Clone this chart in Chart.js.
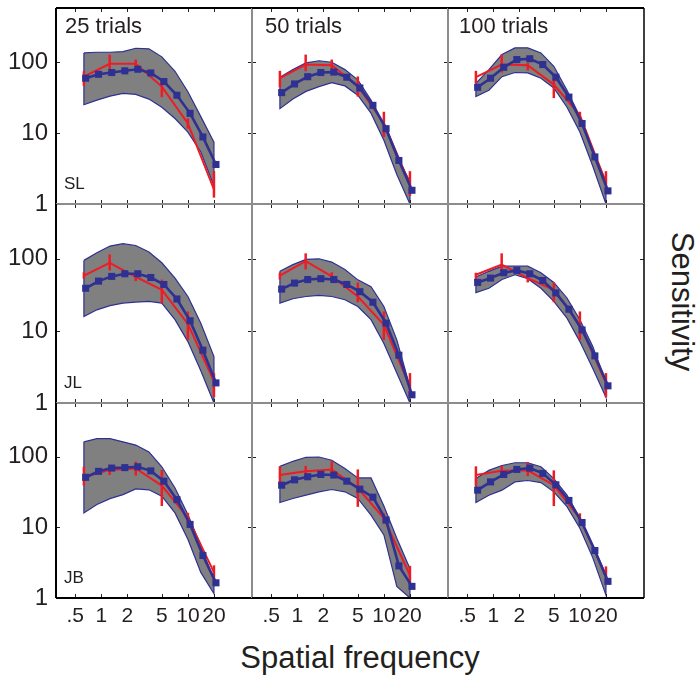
<!DOCTYPE html>
<html>
<head>
<script src="https://cdn.jsdelivr.net/npm/chart.js"></script>
<style>
  body { margin: 0; background: #fff; }
  #wrap { position: relative; width: 696px; height: 679px; overflow: hidden; }
  #wrap canvas { position: absolute; left: 0; top: 0; }
  .lbl { position: absolute; font-family: "Liberation Sans", Arial, sans-serif; font-size: 31px; line-height: 31px; color: #231f20; white-space: nowrap; }
</style>
</head>
<body>
<div id="wrap">
  <div class="lbl" style="left:360px; top:642px; transform:translateX(-50%);">Spatial frequency</div>
  <div class="lbl" style="left:582px; top:285.5px; width:200px; text-align:center; transform:rotate(90deg);">Sensitivity</div>
</div>
<script>
// x positions (cycles/deg)
const freqBand = [0.63, 0.89, 1.26, 1.78, 2.5, 3.55, 5, 7.1, 10, 14.1, 20];
const freqBlue = [0.66, 0.93, 1.32, 1.87, 2.64, 3.73, 5.28, 7.47, 10.6, 14.9, 21.1];
const freqRed = [0.63, 1.25, 2.5, 5, 10, 20];

const xTicks = [0.5, 1, 2, 5, 10, 20];
const xTickLabels = ['.5', '1', '2', '5', '10', '20'];
const yTicks = [1, 10, 100];

const trials = ['25 trials', '50 trials', '100 trials'];
const observers = ['SL', 'JL', 'JB'];

// each array below has one row per trial count: 25, 50, 100
const bandUpperSL = [
  [134, 137, 137, 140, 156, 153, 118, 74, 38, 17, 7.4],
  [61, 78, 97, 104, 99, 78, 56, 29, 12.9, 4.6, 2.1],
  [50, 78, 127, 158, 158, 134, 87, 40, 17, 5.7, 2.1]
];
const bandLowerSL = [
  [25, 29, 33, 36, 35, 30, 23, 16, 10.3, 5.4, 1.8],
  [22, 30, 38.5, 45, 51, 46, 34, 19, 7.9, 2.6, 1.0],
  [32.5, 40, 62, 71, 70, 59, 43, 23, 10.3, 3.4, 1.0]
];
const blueSL = [
  [59, 67, 71, 75, 79, 70, 53, 34, 18.9, 8.8, 3.6],
  [37, 49, 62, 71, 72, 61, 43, 24.5, 11.5, 4.1, 1.56],
  [44, 59, 84, 108, 111, 92, 61, 32, 13.6, 4.6, 1.53]
];
const redSL = [
  [62, 94, 94, 45, 13.6, 1.6],
  [59, 92, 90, 46, 13.6, 1.9],
  [61, 92, 90, 48, 17.8, 2.0]
];
const redHiSL = [
  [74, 127, 108, 59, 16, 2.9],
  [75, 127, 108, 62.5, 19.9, 2.9],
  [75, 127, 97, 59, 19.9, 2.9]
];
const redLoSL = [
  [46, 79, 87, 32, 11.5, 1.23],
  [44, 74, 78, 32.5, 8.8, 1.3],
  [50, 71, 76, 31, 13.6, 1.4]
];

const bandUpperJL = [
  [95, 121, 150, 162, 153, 124, 88, 54, 30, 12.8, 4.4],
  [67, 83, 98, 100, 90, 71, 51, 41, 21.8, 7.5, 1.67],
  [56, 67, 79, 79, 79, 64, 47, 28.6, 14.3, 6.1, 1.9]
];
const bandLowerJL = [
  [15.8, 19.6, 22.4, 24.3, 25.1, 25.6, 24.3, 14.3, 7.1, 2.8, 1.0],
  [24.3, 27.9, 30, 31, 30, 27, 21.8, 14.3, 6.7, 2.6, 1.0],
  [34, 39, 51.5, 60, 53, 39, 25.6, 15, 7.1, 3.0, 1.2]
];
const blueJL = [
  [39, 49, 57, 62, 62, 55, 44, 27.7, 13.8, 5.4, 1.9],
  [38, 46, 51.5, 53, 51.5, 44, 35, 25, 12.8, 4.6, 1.3],
  [47, 54, 64, 69, 62, 50, 33.6, 20, 10.3, 4.5, 1.73]
];
const redJL = [
  [58.5, 88, 56, 37, 12.5, 2.0],
  [58.5, 93, 57, 30, 12.1, 1.67],
  [60, 83, 54, 37, 12.1, 1.9]
];
const redHiJL = [
  [65, 115, 64, 51.5, 18.6, 2.6],
  [64, 119, 65, 47, 18.6, 2.6],
  [64, 119, 62, 47, 18.6, 2.6]
];
const redLoJL = [
  [53, 69, 49, 24.3, 7.5, 1.21],
  [51.5, 71, 49, 25, 7.5, 1.21],
  [49, 67, 47, 25, 7.5, 1.2]
];

const bandUpperJB = [
  [162, 180, 180, 162, 146, 117, 72, 36, 15.2, 5.5, 1.8],
  [73, 86, 98, 99, 89, 68, 50, 50, 20, 7.0, 2.6],
  [49, 64, 75, 82, 82, 72, 49, 28.6, 13.4, 5.4, 1.9]
];
const bandLowerJB = [
  [16, 21, 25.5, 29, 35, 34, 27.6, 16, 6.8, 2.3, 1.15],
  [22.5, 25.6, 28.5, 31.8, 34.3, 31.8, 25.6, 14.9, 7.8, 1.46, 1.0],
  [22.5, 28.5, 33.6, 44, 46, 43, 31.8, 19.6, 9.7, 3.7, 1.1]
];
const blueJB = [
  [51, 62, 69, 70, 72, 63, 45, 24.7, 11, 4.0, 1.64],
  [39.5, 47, 52, 56, 55, 45, 34.7, 26.7, 12.7, 2.85, 1.46],
  [33.6, 44, 56, 66, 69, 58, 40, 24, 11.7, 4.7, 1.72]
];
const redJB = [
  [51, 65, 68, 39, 13.7, 2.3],
  [55, 62, 66, 36, 13.4, 2.1],
  [55, 63, 64, 39.5, 13.4, 2.1]
];
const redHiJB = [
  [72, 76, 85, 65, 16, 2.9],
  [73, 74, 86, 66, 15.8, 2.85],
  [73, 74, 84, 64, 15.8, 2.8]
];
const redLoJB = [
  [39, 55, 54, 20, 11, 1.5],
  [39.5, 52, 55, 19.5, 11.4, 1.6],
  [38.6, 55, 53, 20, 11.4, 1.6]
];

const bandUpper = [bandUpperSL, bandUpperJL, bandUpperJB];
const bandLower = [bandLowerSL, bandLowerJL, bandLowerJB];
const blue = [blueSL, blueJL, blueJB];
const red = [redSL, redJL, redJB];
const redHi = [redHiSL, redHiJL, redHiJB];
const redLo = [redLoSL, redLoJL, redLoJB];

const BLUE = '#2e3192';
const RED = '#ed1c24';
const GRAY = '#808080';
const DIV = '#8c8c8c';
const INK = '#231f20';
const FONT = '"Liberation Sans", Arial, sans-serif';

// panel edges in page pixels
const colLeft = [56, 252, 448, 644];
const rowTop = [8, 204, 403, 598];
const W = 696, H = 679;

Chart.defaults.font.family = FONT;
Chart.defaults.color = INK;

const panelPlugin = {
  id: 'panel',
  afterDatasetDraw(chart, args) {
    if (args.index !== 1) return;
    const {r, c} = chart.options.plugins.panel;
    const xs = chart.scales.x, ys = chart.scales.y, ctx = chart.ctx;
    ctx.save();
    ctx.strokeStyle = RED;
    ctx.lineWidth = 2.5;
    freqRed.forEach((f, i) => {
      const px = xs.getPixelForValue(f);
      ctx.beginPath();
      ctx.moveTo(px, ys.getPixelForValue(redLo[r][c][i]));
      ctx.lineTo(px, ys.getPixelForValue(redHi[r][c][i]));
      ctx.stroke();
    });
    ctx.restore();
  },
  afterDraw(chart) {
    const {r, c} = chart.options.plugins.panel;
    const {left, right, top, bottom} = chart.chartArea;
    const xs = chart.scales.x, ys = chart.scales.y, ctx = chart.ctx;
    ctx.save();
    // inward tick marks
    ctx.strokeStyle = '#222';
    ctx.lineWidth = 1;
    ctx.beginPath();
    xTicks.forEach(v => {
      const px = Math.round(xs.getPixelForValue(v)) + 0.5;
      ctx.moveTo(px, top); ctx.lineTo(px, top + 4);
      ctx.moveTo(px, bottom); ctx.lineTo(px, bottom - 4);
    });
    yTicks.forEach(v => {
      const py = Math.round(ys.getPixelForValue(v)) + 0.5;
      ctx.moveTo(left, py); ctx.lineTo(left + 4, py);
      ctx.moveTo(right, py); ctx.lineTo(right - 4, py);
    });
    ctx.stroke();
    // frame: grey dividers first, black outside edges on top
    const edges = [
      [left, top, left, bottom, c === 0],
      [right, top, right, bottom, c === 2],
      [left, top, right, top, r === 0],
      [left, bottom, right, bottom, r === 2]
    ];
    [false, true].forEach(outer => {
      edges.filter(e => e[4] === outer).forEach(e => {
        ctx.strokeStyle = outer ? '#000' : DIV;
        ctx.lineWidth = outer && c === 2 && e[0] === right && e[2] === right ? 1.5 : 2;
        ctx.beginPath();
        ctx.moveTo(e[0], e[1]);
        ctx.lineTo(e[2], e[3]);
        ctx.stroke();
      });
    });
    ctx.fillStyle = INK;
    ctx.textBaseline = 'alphabetic';
    if (r === 0) {
      ctx.font = '22px ' + FONT;
      ctx.fillText(trials[c], left + [9, 13, 11][c], top + 24.5);
    }
    if (c === 0) {
      ctx.font = '17px ' + FONT;
      ctx.fillText(observers[r], left + 8, bottom - 15);
    }
    ctx.restore();
  }
};

const wrap = document.getElementById('wrap');

for (let r = 0; r < 3; r++) {
  for (let c = 0; c < 3; c++) {
    const canvas = document.createElement('canvas');
    canvas.width = W;
    canvas.height = H;
    canvas.style.width = W + 'px';
    canvas.style.height = H + 'px';
    wrap.appendChild(canvas);

    const up = bandUpper[r][c], lo = bandLower[r][c];
    const band = freqBand.map((f, i) => ({x: f, y: up[i]}))
      .concat(freqBand.map((f, i) => ({x: f, y: lo[i]})).reverse());
    band.push(band[0]);

    const showX = r === 2, showY = c === 0;

    new Chart(canvas, {
      type: 'line',
      data: {
        datasets: [
          {
            label: 'blue',
            data: freqBlue.map((f, i) => ({x: f, y: blue[r][c][i]})),
            borderColor: BLUE,
            backgroundColor: BLUE,
            borderWidth: 2.6,
            pointStyle: 'rect',
            pointRadius: 5,
            pointBorderWidth: 0,
            fill: false
          },
          {
            label: 'red',
            data: freqRed.map((f, i) => ({x: f, y: red[r][c][i]})),
            borderColor: RED,
            borderWidth: 2,
            pointRadius: 0,
            fill: false
          },
          {
            label: 'band',
            data: band,
            borderColor: BLUE,
            backgroundColor: GRAY,
            borderWidth: 1.2,
            pointRadius: 0,
            fill: 'shape'
          }
        ]
      },
      options: {
        responsive: false,
        animation: false,
        devicePixelRatio: 1,
        events: [],
        layout: {
          padding: {
            left: showY ? 0 : colLeft[c],
            right: W - colLeft[c + 1],
            top: rowTop[r],
            bottom: showX ? H - rowTop[3] - 40 : H - rowTop[r + 1]
          }
        },
        plugins: {
          legend: {display: false},
          tooltip: {enabled: false},
          panel: {r: r, c: c}
        },
        scales: {
          x: {
            type: 'logarithmic',
            min: 0.317,
            max: 55,
            display: showX,
            grid: {display: false, drawTicks: false},
            border: {display: false},
            afterBuildTicks: s => { s.ticks = xTicks.map(v => ({value: v})); },
            afterFit: s => {
              s.height = showX ? 40 : 0;
              s.paddingLeft = 0;
              s.paddingRight = 0;
            },
            ticks: {
              autoSkip: false,
              maxRotation: 0,
              minRotation: 0,
              padding: 6,
              color: INK,
              font: {size: 21},
              callback: v => xTickLabels[xTicks.indexOf(v)]
            }
          },
          y: {
            type: 'logarithmic',
            min: 1,
            max: 575,
            display: showY,
            grid: {display: false, drawTicks: false},
            border: {display: false},
            afterBuildTicks: s => { s.ticks = yTicks.map(v => ({value: v})); },
            afterFit: s => {
              s.width = showY ? 56 : 0;
              s.paddingTop = 0;
              s.paddingBottom = 0;
            },
            ticks: {
              padding: 8,
              color: INK,
              font: {size: 24},
              callback: v => String(v)
            }
          }
        }
      },
      plugins: [panelPlugin]
    });
  }
}
</script>
</body>
</html>
